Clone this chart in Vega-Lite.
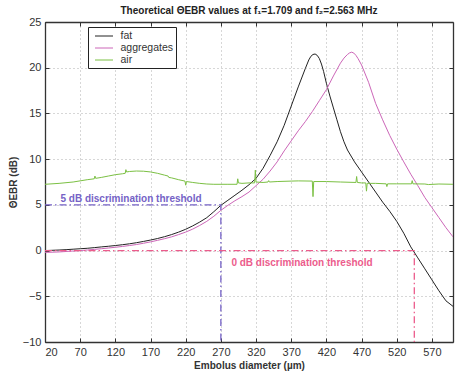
{
  "$schema": "https://vega.github.io/schema/vega-lite/v6.json",
  "width": 408,
  "height": 320,
  "autosize": {"type": "none"},
  "padding": {"left": 45, "top": 22, "right": 3, "bottom": 37},
  "background": "white",
  "title": {"text": "Theoretical ΘEBR values at f₁=1.709 and f₂=2.563 MHz", "fontSize": 10, "fontWeight": "bold", "font": "Liberation Sans", "color": "#222", "offset": 0, "anchor": "middle"},
  "config": {
    "view": {"stroke": null},
    "font": "Liberation Sans",
    "axis": {
      "domainColor": "#333", "domainWidth": 1.3,
      "tickColor": "#333", "tickSize": -4,
      "labelFont": "Liberation Sans", "labelFontSize": 11, "labelColor": "#333",
      "titleFont": "Liberation Sans", "titleFontSize": 10, "titleFontWeight": "bold", "titleColor": "#333",
      "gridColor": "#999", "gridDash": [1, 3], "gridWidth": 0.8, "gridOpacity": 1
    }
  },
  "datasets": {
    "curves": [
      {"d": 20, "v": 0.0, "s": "fat"}, {"d": 30, "v": 0.03, "s": "fat"}, {"d": 40, "v": 0.06, "s": "fat"}, {"d": 50, "v": 0.1, "s": "fat"}, {"d": 60, "v": 0.15, "s": "fat"}, {"d": 70, "v": 0.2, "s": "fat"}, {"d": 80, "v": 0.25, "s": "fat"}, {"d": 90, "v": 0.32, "s": "fat"}, {"d": 100, "v": 0.4, "s": "fat"}, {"d": 110, "v": 0.47, "s": "fat"}, {"d": 120, "v": 0.55, "s": "fat"}, {"d": 130, "v": 0.64, "s": "fat"}, {"d": 140, "v": 0.74, "s": "fat"}, {"d": 150, "v": 0.86, "s": "fat"}, {"d": 160, "v": 1.0, "s": "fat"}, {"d": 170, "v": 1.15, "s": "fat"}, {"d": 180, "v": 1.32, "s": "fat"}, {"d": 190, "v": 1.52, "s": "fat"}, {"d": 200, "v": 1.75, "s": "fat"}, {"d": 210, "v": 2.02, "s": "fat"}, {"d": 220, "v": 2.33, "s": "fat"}, {"d": 230, "v": 2.7, "s": "fat"}, {"d": 240, "v": 3.12, "s": "fat"}, {"d": 250, "v": 3.6, "s": "fat"}, {"d": 260, "v": 4.25, "s": "fat"}, {"d": 270, "v": 4.95, "s": "fat"}, {"d": 280, "v": 5.5, "s": "fat"}, {"d": 290, "v": 6.05, "s": "fat"}, {"d": 300, "v": 6.6, "s": "fat"}, {"d": 310, "v": 7.2, "s": "fat"}, {"d": 320, "v": 7.9, "s": "fat"}, {"d": 330, "v": 9.0, "s": "fat"}, {"d": 340, "v": 10.4, "s": "fat"}, {"d": 350, "v": 11.9, "s": "fat"}, {"d": 360, "v": 13.7, "s": "fat"}, {"d": 370, "v": 15.8, "s": "fat"}, {"d": 380, "v": 17.9, "s": "fat"}, {"d": 390, "v": 19.9, "s": "fat"}, {"d": 395, "v": 20.85, "s": "fat"}, {"d": 398, "v": 21.25, "s": "fat"}, {"d": 401, "v": 21.45, "s": "fat"}, {"d": 404, "v": 21.5, "s": "fat"}, {"d": 407, "v": 21.35, "s": "fat"}, {"d": 410, "v": 21.0, "s": "fat"}, {"d": 413, "v": 20.4, "s": "fat"}, {"d": 416, "v": 19.6, "s": "fat"}, {"d": 420, "v": 18.3, "s": "fat"}, {"d": 425, "v": 16.9, "s": "fat"}, {"d": 430, "v": 15.6, "s": "fat"}, {"d": 435, "v": 14.3, "s": "fat"}, {"d": 440, "v": 13.0, "s": "fat"}, {"d": 445, "v": 11.9, "s": "fat"}, {"d": 450, "v": 11.0, "s": "fat"}, {"d": 460, "v": 9.7, "s": "fat"}, {"d": 470, "v": 8.6, "s": "fat"}, {"d": 480, "v": 7.5, "s": "fat"}, {"d": 490, "v": 6.4, "s": "fat"}, {"d": 500, "v": 5.3, "s": "fat"}, {"d": 510, "v": 4.3, "s": "fat"}, {"d": 520, "v": 3.2, "s": "fat"}, {"d": 530, "v": 1.9, "s": "fat"}, {"d": 540, "v": 0.4, "s": "fat"}, {"d": 550, "v": -0.8, "s": "fat"}, {"d": 560, "v": -2.0, "s": "fat"}, {"d": 570, "v": -3.2, "s": "fat"}, {"d": 580, "v": -4.4, "s": "fat"}, {"d": 590, "v": -5.5, "s": "fat"}, {"d": 600, "v": -6.1, "s": "fat"},
      {"d": 20, "v": -0.2, "s": "aggregates"}, {"d": 30, "v": -0.18, "s": "aggregates"}, {"d": 40, "v": -0.15, "s": "aggregates"}, {"d": 50, "v": -0.1, "s": "aggregates"}, {"d": 60, "v": -0.05, "s": "aggregates"}, {"d": 70, "v": 0.0, "s": "aggregates"}, {"d": 80, "v": 0.06, "s": "aggregates"}, {"d": 90, "v": 0.13, "s": "aggregates"}, {"d": 100, "v": 0.2, "s": "aggregates"}, {"d": 110, "v": 0.28, "s": "aggregates"}, {"d": 120, "v": 0.36, "s": "aggregates"}, {"d": 130, "v": 0.45, "s": "aggregates"}, {"d": 140, "v": 0.55, "s": "aggregates"}, {"d": 150, "v": 0.66, "s": "aggregates"}, {"d": 160, "v": 0.8, "s": "aggregates"}, {"d": 170, "v": 0.95, "s": "aggregates"}, {"d": 180, "v": 1.12, "s": "aggregates"}, {"d": 190, "v": 1.3, "s": "aggregates"}, {"d": 200, "v": 1.5, "s": "aggregates"}, {"d": 210, "v": 1.75, "s": "aggregates"}, {"d": 220, "v": 2.02, "s": "aggregates"}, {"d": 230, "v": 2.35, "s": "aggregates"}, {"d": 240, "v": 2.75, "s": "aggregates"}, {"d": 250, "v": 3.2, "s": "aggregates"}, {"d": 260, "v": 3.75, "s": "aggregates"}, {"d": 270, "v": 4.4, "s": "aggregates"}, {"d": 280, "v": 4.95, "s": "aggregates"}, {"d": 290, "v": 5.45, "s": "aggregates"}, {"d": 300, "v": 5.9, "s": "aggregates"}, {"d": 310, "v": 6.4, "s": "aggregates"}, {"d": 320, "v": 7.1, "s": "aggregates"}, {"d": 330, "v": 7.8, "s": "aggregates"}, {"d": 340, "v": 8.7, "s": "aggregates"}, {"d": 350, "v": 9.7, "s": "aggregates"}, {"d": 360, "v": 10.9, "s": "aggregates"}, {"d": 370, "v": 12.0, "s": "aggregates"}, {"d": 380, "v": 13.1, "s": "aggregates"}, {"d": 390, "v": 14.1, "s": "aggregates"}, {"d": 400, "v": 15.2, "s": "aggregates"}, {"d": 410, "v": 16.4, "s": "aggregates"}, {"d": 420, "v": 17.6, "s": "aggregates"}, {"d": 430, "v": 19.1, "s": "aggregates"}, {"d": 440, "v": 20.5, "s": "aggregates"}, {"d": 445, "v": 21.05, "s": "aggregates"}, {"d": 450, "v": 21.45, "s": "aggregates"}, {"d": 453, "v": 21.62, "s": "aggregates"}, {"d": 456, "v": 21.7, "s": "aggregates"}, {"d": 459, "v": 21.6, "s": "aggregates"}, {"d": 462, "v": 21.35, "s": "aggregates"}, {"d": 465, "v": 21.0, "s": "aggregates"}, {"d": 470, "v": 20.3, "s": "aggregates"}, {"d": 480, "v": 18.4, "s": "aggregates"}, {"d": 490, "v": 16.1, "s": "aggregates"}, {"d": 500, "v": 14.3, "s": "aggregates"}, {"d": 510, "v": 12.6, "s": "aggregates"}, {"d": 520, "v": 11.1, "s": "aggregates"}, {"d": 530, "v": 9.7, "s": "aggregates"}, {"d": 540, "v": 8.35, "s": "aggregates"}, {"d": 550, "v": 7.1, "s": "aggregates"}, {"d": 560, "v": 5.8, "s": "aggregates"}, {"d": 570, "v": 4.7, "s": "aggregates"}, {"d": 580, "v": 3.6, "s": "aggregates"}, {"d": 590, "v": 2.5, "s": "aggregates"}, {"d": 600, "v": 1.5, "s": "aggregates"},
      {"d": 20, "v": 7.25, "s": "air"}, {"d": 40, "v": 7.35, "s": "air"}, {"d": 60, "v": 7.5, "s": "air"}, {"d": 80, "v": 7.75, "s": "air"}, {"d": 90, "v": 7.85, "s": "air"}, {"d": 91, "v": 8.15, "s": "air"}, {"d": 92, "v": 7.9, "s": "air"}, {"d": 100, "v": 8.0, "s": "air"}, {"d": 110, "v": 8.15, "s": "air"}, {"d": 120, "v": 8.3, "s": "air"}, {"d": 130, "v": 8.4, "s": "air"}, {"d": 134, "v": 8.45, "s": "air"}, {"d": 135, "v": 8.85, "s": "air"}, {"d": 136, "v": 8.6, "s": "air"}, {"d": 140, "v": 8.65, "s": "air"}, {"d": 150, "v": 8.7, "s": "air"}, {"d": 160, "v": 8.68, "s": "air"}, {"d": 170, "v": 8.6, "s": "air"}, {"d": 180, "v": 8.45, "s": "air"}, {"d": 190, "v": 8.25, "s": "air"}, {"d": 195, "v": 8.15, "s": "air"}, {"d": 196, "v": 8.0, "s": "air"}, {"d": 200, "v": 7.95, "s": "air"}, {"d": 210, "v": 7.75, "s": "air"}, {"d": 219, "v": 7.6, "s": "air"}, {"d": 220, "v": 7.15, "s": "air"}, {"d": 221, "v": 7.55, "s": "air"}, {"d": 230, "v": 7.45, "s": "air"}, {"d": 240, "v": 7.35, "s": "air"}, {"d": 250, "v": 7.28, "s": "air"}, {"d": 260, "v": 7.25, "s": "air"}, {"d": 280, "v": 7.25, "s": "air"}, {"d": 293, "v": 7.25, "s": "air"}, {"d": 294, "v": 7.85, "s": "air"}, {"d": 295, "v": 7.4, "s": "air"}, {"d": 300, "v": 7.35, "s": "air"}, {"d": 310, "v": 7.4, "s": "air"}, {"d": 318, "v": 7.4, "s": "air"}, {"d": 319, "v": 8.8, "s": "air"}, {"d": 320, "v": 7.5, "s": "air"}, {"d": 330, "v": 7.45, "s": "air"}, {"d": 337, "v": 7.5, "s": "air"}, {"d": 338, "v": 7.65, "s": "air"}, {"d": 339, "v": 7.5, "s": "air"}, {"d": 350, "v": 7.55, "s": "air"}, {"d": 370, "v": 7.6, "s": "air"}, {"d": 380, "v": 7.62, "s": "air"}, {"d": 400, "v": 7.6, "s": "air"}, {"d": 401, "v": 5.9, "s": "air"}, {"d": 402, "v": 7.55, "s": "air"}, {"d": 420, "v": 7.55, "s": "air"}, {"d": 440, "v": 7.5, "s": "air"}, {"d": 462, "v": 7.45, "s": "air"}, {"d": 463, "v": 8.1, "s": "air"}, {"d": 464, "v": 7.45, "s": "air"}, {"d": 470, "v": 7.4, "s": "air"}, {"d": 476, "v": 7.4, "s": "air"}, {"d": 477, "v": 6.5, "s": "air"}, {"d": 478, "v": 7.35, "s": "air"}, {"d": 490, "v": 7.35, "s": "air"}, {"d": 505, "v": 7.3, "s": "air"}, {"d": 506, "v": 7.0, "s": "air"}, {"d": 507, "v": 7.3, "s": "air"}, {"d": 520, "v": 7.3, "s": "air"}, {"d": 541, "v": 7.3, "s": "air"}, {"d": 542, "v": 7.65, "s": "air"}, {"d": 543, "v": 7.3, "s": "air"}, {"d": 560, "v": 7.28, "s": "air"}, {"d": 565, "v": 7.22, "s": "air"}, {"d": 580, "v": 7.28, "s": "air"}, {"d": 600, "v": 7.25, "s": "air"}
    ],
    "thr": [
      {"t": "5 dB", "i": 0, "x": 20, "y": 5}, {"t": "5 dB", "i": 1, "x": 270, "y": 5}, {"t": "5 dB", "i": 2, "x": 270, "y": -10},
      {"t": "0 dB", "i": 0, "x": 20, "y": 0}, {"t": "0 dB", "i": 1, "x": 545, "y": 0}, {"t": "0 dB", "i": 2, "x": 545, "y": -10}
    ],
    "lbl": [
      {"t": "5 dB", "x": 42, "y": 5.3, "label": "5 dB discrimination threshold"},
      {"t": "0 dB", "x": 285, "y": -1.7, "label": "0 dB discrimination threshold"}
    ]
  },
  "layer": [
    {
      "data": {"name": "curves"},
      "mark": {"type": "line", "strokeWidth": 1, "clip": true},
      "encoding": {
        "x": {"field": "d", "type": "quantitative", "scale": {"domain": [20, 600], "nice": false, "zero": false},
              "axis": {"orient": "bottom", "title": "Embolus diameter (µm)", "values": [20, 70, 120, 170, 220, 270, 320, 370, 420, 470, 520, 570], "grid": true, "labelPadding": 8, "titlePadding": 3}},
        "y": {"field": "v", "type": "quantitative", "scale": {"domain": [-10, 25], "nice": false, "zero": false},
              "axis": {"orient": "left", "title": "ΘEBR (dB)", "values": [-10, -5, 0, 5, 10, 15, 20, 25], "grid": true, "labelPadding": 8, "titlePadding": 4}},
        "color": {"field": "s", "type": "nominal", "scale": {"domain": ["fat", "aggregates", "air"], "range": ["#222222", "#cc66b8", "#7bc043"]},
                  "legend": {"title": null, "orient": "none", "legendX": 43, "legendY": 5, "strokeColor": "#222", "fillColor": "white", "padding": 2.5, "rowPadding": 0, "symbolType": "M-1.5,0H1.5", "symbolSize": 144, "symbolStrokeWidth": 1, "symbolOffset": 7, "labelOffset": 10, "labelFontSize": 10.5, "labelColor": "#333", "labelFont": "Liberation Sans"}}
      }
    },
    {
      "data": {"name": "thr"},
      "transform": [{"filter": "datum.t === '5 dB'"}],
      "mark": {"type": "line", "color": "#7562c6", "strokeWidth": 1.3, "strokeDash": [7, 3, 1.5, 3]},
      "encoding": {
        "x": {"field": "x", "type": "quantitative", "axis": {"orient": "top", "labels": false, "title": null, "grid": false, "values": [20, 70, 120, 170, 220, 270, 320, 370, 420, 470, 520, 570]}},
        "y": {"field": "y", "type": "quantitative", "axis": {"orient": "right", "labels": false, "title": null, "grid": false, "values": [-10, -5, 0, 5, 10, 15, 20, 25]}},
        "order": {"field": "i"}
      }
    },
    {
      "data": {"name": "thr"},
      "transform": [{"filter": "datum.t === '0 dB'"}],
      "mark": {"type": "line", "color": "#ec5c8c", "strokeWidth": 1.3, "strokeDash": [7, 3, 1.5, 3]},
      "encoding": {
        "x": {"field": "x", "type": "quantitative", "axis": null},
        "y": {"field": "y", "type": "quantitative", "axis": null},
        "order": {"field": "i"}
      }
    },
    {
      "data": {"name": "lbl"},
      "transform": [{"filter": "datum.t === '5 dB'"}],
      "mark": {"type": "text", "color": "#7562c6", "fontSize": 10, "fontWeight": "bold", "align": "left", "baseline": "alphabetic", "font": "Liberation Sans"},
      "encoding": {
        "x": {"field": "x", "type": "quantitative", "axis": null},
        "y": {"field": "y", "type": "quantitative", "axis": null},
        "text": {"field": "label"}
      }
    },
    {
      "data": {"name": "lbl"},
      "transform": [{"filter": "datum.t === '0 dB'"}],
      "mark": {"type": "text", "color": "#ec5c8c", "fontSize": 10, "fontWeight": "bold", "align": "left", "baseline": "alphabetic", "font": "Liberation Sans"},
      "encoding": {
        "x": {"field": "x", "type": "quantitative", "axis": null},
        "y": {"field": "y", "type": "quantitative", "axis": null},
        "text": {"field": "label"}
      }
    }
  ],
  "resolve": {"axis": {"x": "independent", "y": "independent"}}
}
